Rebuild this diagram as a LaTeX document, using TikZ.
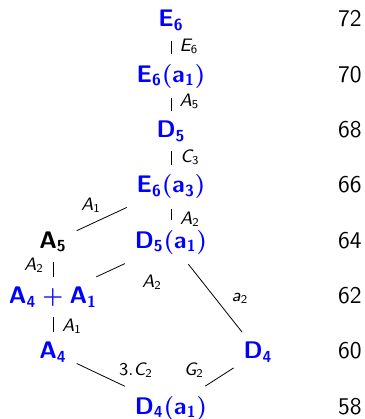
\documentclass[tikz,border=0pt]{standalone}
\usepackage{xcolor}
\DeclareMathAlphabet{\mathsfsl}{OT1}{cmss}{m}{sl}
\newcommand{\lab}[2]{$\mathsfsl{#1}_{\mathsf{#2}}$}

\begin{document}
\begin{tikzpicture}[
    orbit/.style={
      anchor=base, text=blue, inner sep=4pt, outer sep=1pt,
      font=\large\boldmath
    },
    dim/.style={anchor=base east, inner sep=0pt, font=\large\sffamily},
    lbl/.style={inner sep=1pt, font=\small},
    edge/.style={line width=0.4pt},
  ]
  \useasboundingbox (0,0) rectangle (6.414,-7.363);

  % Middle column (top to bottom)
  \node[orbit] (e6)   at (3.005,-0.474) {$\mathsf{E_6}$};
  \node[orbit] (e6a1) at (3.005,-1.446) {$\mathsf{E_6(a_1)}$};
  \node[orbit] (d5)   at (3.005,-2.418) {$\mathsf{D_5}$};
  \node[orbit] (e6a3) at (3.005,-3.390) {$\mathsf{E_6(a_3)}$};
  \node[orbit] (d5a1) at (3.005,-4.362) {$\mathsf{D_5(a_1)}$};
  \node[orbit] (d4a1) at (3.005,-7.277) {$\mathsf{D_4(a_1)}$};

  % Left column
  \node[orbit, text=black] (a5) at (0.931,-4.362) {$\mathsf{A_5}$};
  \node[orbit] (a4a1) at (0.931,-5.333) {$\mathsf{A_4+A_1}$};
  \node[orbit] (a4)   at (0.931,-6.305) {$\mathsf{A_4}$};

  % Right
  \node[orbit] (d4) at (4.534,-6.305) {$\mathsf{D_4}$};

  % Dimensions
  \node[dim] (n72) at (6.361,-0.474) {72};
  \node[dim] (n70) at (6.361,-1.446) {70};
  \node[dim] (n68) at (6.361,-2.418) {68};
  \node[dim] (n66) at (6.361,-3.390) {66};
  \node[dim] (n64) at (6.361,-4.362) {64};
  \node[dim] (n62) at (6.361,-5.333) {62};
  \node[dim] (n60) at (6.361,-6.305) {60};
  \node[dim] (n58) at (6.361,-7.277) {58};

  % Edges
  \draw[edge] (e6) -- (e6a1);
  \draw[edge] (e6a1) -- (d5);
  \draw[edge] (d5) -- (e6a3);
  \draw[edge] (e6a3) -- (d5a1);
  \draw[edge] (e6a3) -- (a5);
  \draw[edge] (a5) -- (a4a1);
  \draw[edge] (d5a1) -- (a4a1);
  \draw[edge] (d5a1) -- (d4);
  \draw[edge] (a4a1) -- (a4);
  \draw[edge] (a4) -- (d4a1);
  \draw[edge] (d4) -- (d4a1);

  % Edge labels
  \node[lbl] (l1)  at (3.321,-0.808) {\lab{E}{6}};
  \node[lbl] (l2)  at (3.330,-1.784) {\lab{A}{5}};
  \node[lbl] (l3)  at (3.339,-2.759) {\lab{C}{3}};
  \node[lbl] (l4)  at (3.339,-3.857) {\lab{A}{2}};
  \node[lbl] (l5)  at (1.599,-3.602) {\lab{A}{1}};
  \node[lbl] (l6)  at (0.597,-4.666) {\lab{A}{2}};
  \node[lbl] (l7)  at (2.671,-4.956) {\lab{A}{2}};
  \node[lbl] (l8)  at (4.218,-5.237) {\lab{a}{2}};
  \node[lbl] (l9)  at (1.265,-5.738) {\lab{A}{1}};
  \node[lbl] (l10) at (2.390,-6.502) {$\mathsf{3.}\mathsfsl{C}_{\mathsf{2}}$};
  \node[lbl] (l11) at (3.409,-6.502) {\lab{G}{2}};

\end{tikzpicture}
\end{document}
